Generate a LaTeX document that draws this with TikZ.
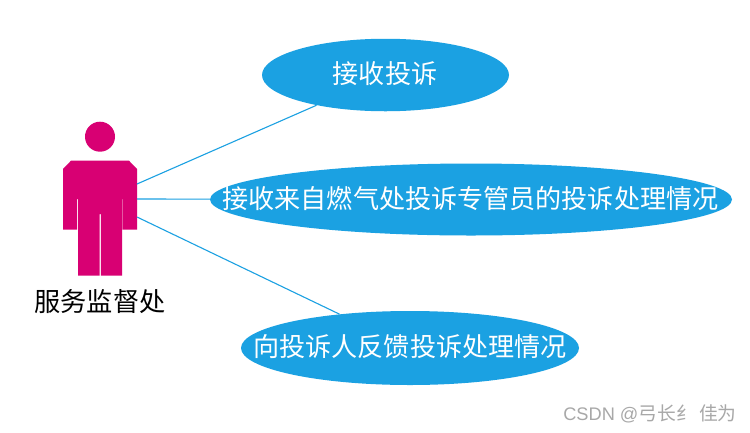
\documentclass[tikz,border=0pt]{standalone}
\usepackage{fontspec}
\usetikzlibrary{shapes.geometric}
\newfontfamily\cjk{Noto Sans CJK SC}
\newfontfamily\latn{Liberation Sans}
\definecolor{ucblue}{HTML}{1BA1E2}
\definecolor{actormag}{HTML}{D80073}
\definecolor{markgray}{HTML}{A8A8A8}
\tikzset{
  x=1pt,y=-1pt,
  usecase/.style={ellipse,fill=ucblue,inner sep=0pt},
  casetext/.style={text=white,inner sep=0pt,font=\cjk\fontsize{26.1}{26}\selectfont},
  link/.style={draw=ucblue,line width=1.1pt},
  actorpart/.style={fill=actormag,draw=none},
  actorlabel/.style={inner sep=0pt,font=\cjk\fontsize{26.2}{26}\selectfont,text=black}
}
\begin{document}
\begin{tikzpicture}
\useasboundingbox (0,0) rectangle (750,432);
\fill[white] (0,0) rectangle (750,432);
% actor
\fill[actorpart] (100,136.7) circle (15);
\fill[actorpart] (71,160.7) -- (129,160.7) -- (137,169) -- (137,229.7) -- (122.7,229.7)
  -- (122.7,199) -- (122,199) -- (122,275.7) -- (100.8,275.7) -- (100.8,214) -- (99.6,214) -- (99.6,275.7)
  -- (78,275.7) -- (78,199) -- (77.2,199) -- (77.2,229.7) -- (63,229.7) -- (63,169) -- cycle;
\coordinate (a1) at (137,184);
\coordinate (a2) at (137,199);
\coordinate (a3) at (137,217);
% use cases
\node[usecase,minimum width=247,minimum height=72.5] (e1) at (385.5,75) {};
\node[usecase,minimum width=522,minimum height=72] (e2) at (471,199.5) {};
\node[usecase,minimum width=338,minimum height=74] (e3) at (410,348) {};
\node[casetext] (t1) at (385,74) {接收投诉};
\node[casetext] (t2) at (470.5,198.5) {接收来自燃气处投诉专管员的投诉处理情况};
\node[casetext] (t3) at (410,347) {向投诉人反馈投诉处理情况};
\draw[link] (a1) -- (e1);
\draw[link] (a2) -- (e2);
\draw[link] (a3) -- (e3);
\node[actorlabel] (lab) at (100,301.5) {服务监督处};
\node[inner sep=0pt,text=markgray,font=\cjk\fontsize{18.8}{18}\selectfont] (wm) at (650,413.5) {{\latn\fontsize{18.2}{18}\selectfont CSDN @}弓长纟 佳为};
\end{tikzpicture}
\end{document}
